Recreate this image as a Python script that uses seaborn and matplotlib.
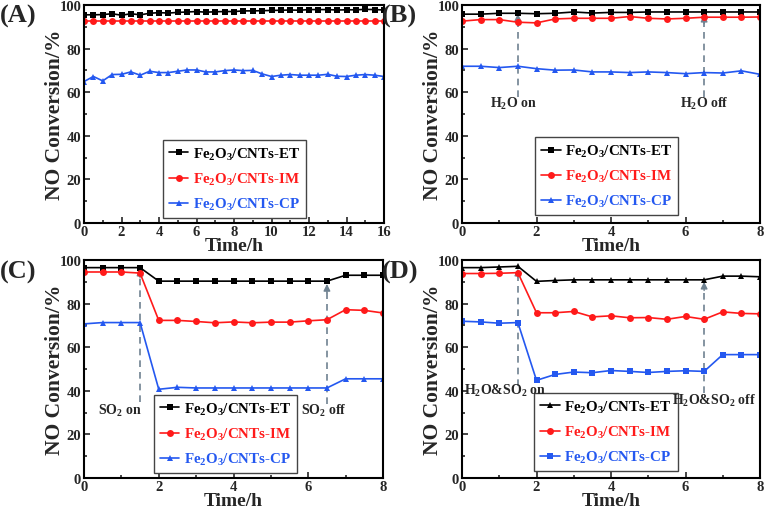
import numpy as np
import pandas as pd
import matplotlib
matplotlib.use("Agg")
import matplotlib.pyplot as plt
from matplotlib.ticker import MultipleLocator
import seaborn as sns

# ---------------- data ----------------
time_a = [i * 0.5 for i in range(33)]
a_et = [95.5, 95.5, 95.6, 96.0, 95.3, 96.0, 95.5, 96.2, 96.5, 96.3, 96.6, 96.8, 97.0, 96.7, 96.9, 97.0,
        97.0, 97.3, 97.3, 97.4, 97.5, 97.6, 97.7, 97.6, 97.9, 97.9, 97.9, 97.7, 97.8, 97.8, 98.0, 97.9, 97.7]
a_im = [92.7] * 33
a_cp = [64.9, 67.2, 65.2, 68.1, 68.2, 69.3, 67.8, 69.6, 69.0, 69.0, 69.6, 70.2, 70.2, 69.3, 69.3, 69.9,
        70.2, 69.9, 70.0, 68.4, 67.2, 67.8, 68.1, 67.8, 67.8, 67.8, 68.2, 67.3, 67.2, 67.8, 68.1, 67.8, 67.2]

time_b = [i * 0.5 for i in range(17)]
b_et = [95.8, 95.8, 96.2, 96.2, 96.0, 96.2, 96.8, 96.3, 96.6, 96.6, 96.8, 96.8, 96.8, 96.8, 96.8, 96.8, 96.8]
b_im = [92.6, 93.3, 93.3, 92.1, 91.8, 93.6, 93.9, 93.9, 93.9, 94.7, 93.9, 93.6, 93.9, 94.4, 94.4, 94.4, 94.5]
b_cp = [71.9, 71.9, 71.3, 71.9, 70.8, 70.1, 70.2, 69.3, 69.3, 69.0, 69.3, 69.0, 68.5, 69.0, 68.8, 69.8, 68.2]

c_et = [96.5, 96.5, 96.5, 96.5, 90.3, 90.3, 90.3, 90.3, 90.3, 90.3, 90.3, 90.3, 90.3, 90.3, 93.0, 93.0, 93.0]
c_im = [94.5, 94.5, 94.5, 94.0, 72.3, 72.3, 71.8, 71.2, 71.6, 71.2, 71.5, 71.5, 72.1, 72.6, 77.2, 76.9, 75.7]
c_cp = [70.7, 71.3, 71.3, 71.3, 40.7, 41.6, 41.3, 41.3, 41.3, 41.3, 41.3, 41.3, 41.3, 41.3, 45.5, 45.5, 45.5]

d_et = [96.5, 96.5, 96.8, 97.1, 90.2, 90.6, 90.9, 90.9, 90.9, 90.9, 90.9, 90.9, 90.9, 90.9, 92.6, 92.6, 92.3]
d_im = [93.8, 93.8, 93.9, 94.2, 75.8, 75.8, 76.4, 73.9, 74.4, 73.5, 73.6, 72.8, 74.1, 72.8, 76.2, 75.5, 75.3]
d_cp = [71.9, 71.6, 71.0, 71.3, 44.8, 47.5, 48.6, 48.3, 49.3, 48.9, 48.4, 48.9, 49.2, 48.9, 56.6, 56.6, 56.6]

labels = [r"Fe$_2$O$_3$/CNTs-ET", r"Fe$_2$O$_3$/CNTs-IM", r"Fe$_2$O$_3$/CNTs-CP"]
panel_names = ["(A)", "(B)", "(C)", "(D)"]

# ---------------- style ----------------
sns.set_theme(style="ticks")
plt.rcParams["font.family"] = ["Liberation Serif", "DejaVu Serif"]
plt.rcParams["font.weight"] = "bold"
plt.rcParams["mathtext.fontset"] = "custom"
plt.rcParams["mathtext.rm"] = "Liberation Serif:bold"
plt.rcParams["mathtext.it"] = "Liberation Serif:bold"
plt.rcParams["mathtext.bf"] = "Liberation Serif:bold"
plt.rcParams["mathtext.default"] = "rm"

BLACK = "#000000"
RED = "#FF1A1A"
BLUE = "#2458F0"
ARROW = "#6F8291"
colors = [BLACK, RED, BLUE]

fig = plt.figure(figsize=(7.66, 5.10), dpi=100)
W, H = 766, 510
boxes = [(84, 384, 6, 224), (462, 760, 6, 224), (84, 383, 261, 479), (462, 760, 261, 479)]
axes = []
for (l, r, t, b) in boxes:
    axes.append(fig.add_axes([l / W, 1 - b / H, (r - l) / W, (b - t) / H]))

panels = [
    (time_a, [a_et, a_im, a_cp], ["s", "o", "^"], 16),
    (time_b, [b_et, b_im, b_cp], ["s", "o", "^"], 8),
    (time_b, [c_et, c_im, c_cp], ["s", "o", "^"], 8),
    (time_b, [d_et, d_im, d_cp], ["^", "o", "s"], 8),
]
legend_anchor = [(0.263, 0.023), (0.245, 0.036), (0.234, 0.023), (0.242, 0.032)]
panel_label_pos = [(0, 16), (382, 16), (0, 272), (382, 272)]

for i, (ax, (tx, series, mk, xmax)) in enumerate(zip(axes, panels)):
    for s, lab, c, m in zip(series, labels, colors, mk):
        sns.lineplot(x=tx, y=s, ax=ax, color=c, marker=m, markersize=5,
                     markeredgewidth=0, linewidth=1.2, label=lab, sort=False)
    ax.set_xlim(0, xmax)
    ax.set_ylim(0, 100)
    ax.xaxis.set_major_locator(MultipleLocator(2))
    ax.xaxis.set_minor_locator(MultipleLocator(1))
    ax.yaxis.set_major_locator(MultipleLocator(20))
    ax.yaxis.set_minor_locator(MultipleLocator(10))
    ax.tick_params(which="both", direction="in", top=False, right=False,
                   width=1.2, labelsize=10.5, pad=2)
    ax.tick_params(axis="x", pad=1.5)
    ax.tick_params(which="major", length=4)
    ax.tick_params(which="minor", length=2.5)
    for lbl in ax.get_xticklabels() + ax.get_yticklabels():
        lbl.set_fontweight("bold")
    for sp in ax.spines.values():
        sp.set_linewidth(1.5)
        sp.set_color("black")
    ax.set_xlabel("Time/h", fontsize=14, fontweight="bold", labelpad=-0.5)
    ax.set_ylabel("NO Conversion/%", fontsize=15.5, fontweight="bold", labelpad=-4)
    leg = ax.legend(loc="lower left", bbox_to_anchor=legend_anchor[i], borderaxespad=0,
                    fontsize=10.8, handlelength=1.3, handletextpad=0.3, labelspacing=0.6,
                    borderpad=0.4, fancybox=False, framealpha=1, edgecolor="#444444")
    leg.get_frame().set_linewidth(1.0)
    leg.set_zorder(2)
    for txt, c in zip(leg.get_texts(), colors):
        txt.set_color(c)
        txt.set_fontweight("bold")
    px, py = panel_label_pos[i]
    fig.text(px / W, 1 - py / H, panel_names[i],
             fontsize=19, fontweight="bold", va="center", ha="left")


def marker_arrow(ax, x, y0, y1):
    ax.plot([x, x], [y0, y1 - 3], linestyle=(0, (4, 3)), color=ARROW, linewidth=1.2, zorder=1)
    ax.annotate("", xy=(x, y1), xytext=(x, y1 - 4),
                arrowprops=dict(arrowstyle="-|>", color=ARROW, lw=1.0, mutation_scale=10,
                                shrinkA=0, shrinkB=0), zorder=1)


def note(ax, x, y, s):
    ax.text(x, y, s, fontsize=10, ha="center", va="center", zorder=5)


# panel B
marker_arrow(axes[1], 1.5, 58, 96)
marker_arrow(axes[1], 6.5, 58, 95.5)
note(axes[1], 1.37, 55, r"H$_2$O on")
note(axes[1], 6.52, 55, r"H$_2$O off")

# panel C
marker_arrow(axes[2], 1.5, 35, 96)
marker_arrow(axes[2], 6.5, 34, 89)
note(axes[2], 0.96, 31, r"SO$_2$ on")
note(axes[2], 6.42, 31, r"SO$_2$ off")

# panel D
marker_arrow(axes[3], 1.5, 42, 96)
marker_arrow(axes[3], 6.5, 39, 90)
note(axes[3], 1.15, 40.3, r"H$_2$O&SO$_2$ on")
note(axes[3], 6.77, 36, r"H$_2$O&SO$_2$ off")

fig.savefig("out.png", dpi=100)
